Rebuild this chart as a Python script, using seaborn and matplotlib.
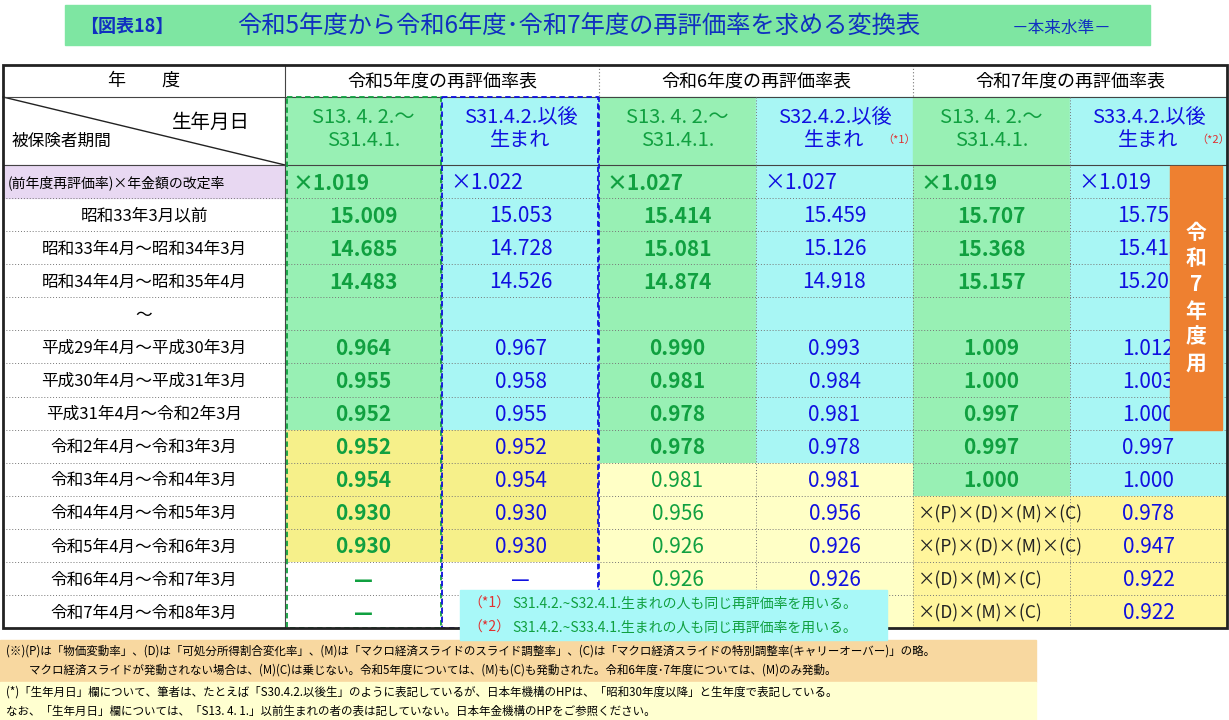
import numpy as np
import matplotlib
matplotlib.use("Agg")
import matplotlib.pyplot as plt
from matplotlib.colors import ListedColormap
from matplotlib.patches import Rectangle
import seaborn as sns

plt.rcParams["font.family"] = "Noto Sans CJK JP"

# ---- data ----
periods = ["(前年度再評価率)×年金額の改定率", "昭和33年3月以前", "昭和33年4月～昭和34年3月",
           "昭和34年4月～昭和35年4月", "～", "平成29年4月～平成30年3月",
           "平成30年4月～平成31年3月", "平成31年4月～令和2年3月", "令和2年4月～令和3年3月",
           "令和3年4月～令和4年3月", "令和4年4月～令和5年3月", "令和5年4月～令和6年3月",
           "令和6年4月～令和7年3月", "令和7年4月～令和8年3月"]
year_tables = ["令和5年度の再評価率表", "令和6年度の再評価率表", "令和7年度の再評価率表"]
birth_groups = ["S13. 4. 2.～\nS31.4.1.", "S31.4.2.以後\n生まれ",
                "S13. 4. 2.～\nS31.4.1.", "S32.4.2.以後\n生まれ",
                "S13. 4. 2.～\nS31.4.1.", "S33.4.2.以後\n生まれ"]
birth_marks = ["", "", "", "（*1）", "", "（*2）"]
r5_old = ["×1.019", "15.009", "14.685", "14.483", "", "0.964", "0.955", "0.952", "0.952", "0.954", "0.930", "0.930", "—", "—"]
r5_new = ["×1.022", "15.053", "14.728", "14.526", "", "0.967", "0.958", "0.955", "0.952", "0.954", "0.930", "0.930", "—", ""]
r6_old = ["×1.027", "15.414", "15.081", "14.874", "", "0.990", "0.981", "0.978", "0.978", "0.981", "0.956", "0.926", "0.926", ""]
r6_new = ["×1.027", "15.459", "15.126", "14.918", "", "0.993", "0.984", "0.981", "0.978", "0.981", "0.956", "0.926", "0.926", ""]
r7_old = ["×1.019", "15.707", "15.368", "15.157", "", "1.009", "1.000", "0.997", "0.997", "1.000",
          "×(P)×(D)×(M)×(C)", "×(P)×(D)×(M)×(C)", "×(D)×(M)×(C)", "×(D)×(M)×(C)"]
r7_new = ["×1.019", "15.753", "15.413", "15.201", "", "1.012", "1.003", "1.000", "0.997", "1.000", "0.978", "0.947", "0.922", "0.922"]
# background category per cell: 0 white, 1 green, 2 cyan, 3 yellow, 4 pale yellow, 5 gold
cell_kind = np.array([
    [1, 2, 1, 2, 1, 2]] * 8 +
    [[3, 3, 1, 2, 1, 2]] +
    [[3, 3, 4, 4, 1, 2]] +
    [[3, 3, 4, 4, 5, 5]] * 2 +
    [[0, 0, 4, 4, 5, 5]] * 2)
notes_star = ["（*1）", "（*2）"]
notes_star_text = ["S31.4.2.~S32.4.1.生まれの人も同じ再評価率を用いる。",
                   "S31.4.2.~S33.4.1.生まれの人も同じ再評価率を用いる。"]
footnotes = ["(※)(P)は「物価変動率」、(D)は「可処分所得割合変化率」、(M)は「マクロ経済スライドのスライド調整率」、(C)は「マクロ経済スライドの特別調整率(キャリーオーバー)」の略。",
             "　　マクロ経済スライドが発動されない場合は、(M)(C)は乗じない。令和5年度については、(M)も(C)も発動された。令和6年度･7年度については、(M)のみ発動。",
             "(*)「生年月日」欄について、筆者は、たとえば「S30.4.2.以後生」のように表記しているが、日本年機構のHPは、「昭和30年度以降」と生年度で表記している。",
             "なお、「生年月日」欄については、「S13. 4. 1.」以前生まれの者の表は記していない。日本年金機構のHPをご参照ください。"]

palette = ["#FFFFFF", "#98F0B4", "#A8F6F4", "#F6F08A", "#FFFFC6", "#FFF59C"]
GREEN, BLUE = "#10A040", "#1010E0"

W, H = 1229, 720
fig = plt.figure(figsize=(W / 100, H / 100), dpi=100)
bg = fig.add_axes([0, 0, 1, 1])
bg.set_xlim(0, W)
bg.set_ylim(H, 0)
bg.axis("off")

top, h1, h2, body_top, bottom = 65, 97, 165, 165, 628
cw = (1227 - 285) / 6
cols = [3] + [285 + k * cw for k in range(7)]

# title
bg.add_patch(Rectangle((65, 5), 1085, 40, color="#7EE6A2", zorder=0))
bg.text(80, 26, "【図表18】", fontsize=13, color="#1030C0", va="center", fontweight="bold")
bg.text(237, 26, "令和5年度から令和6年度･令和7年度の再評価率を求める変換表", fontsize=17.5, color="#1030C0", va="center")
bg.text(1012, 28, "－本来水準－", fontsize=12, color="#1030C0", va="center")

# body heatmap
hx0, hx1 = cols[1], cols[-1]
hax = fig.add_axes([hx0 / W, 1 - bottom / H, (hx1 - hx0) / W, (bottom - body_top) / H])
sns.heatmap(cell_kind, ax=hax, cmap=ListedColormap(palette), vmin=-0.5, vmax=5.5,
            cbar=False, xticklabels=False, yticklabels=False, linewidths=0)
col_data = [r5_old, r5_new, r6_old, r6_new, r7_old, r7_new]
nrow = len(periods)
for j, vals in enumerate(col_data):
    for i, v in enumerate(vals):
        if not v:
            continue
        col = GREEN if j % 2 == 0 else BLUE
        bold = j % 2 == 0 and not (j == 2 and i >= 9)
        x, ha = j + 0.5, "center"
        if i == 0:
            x, ha = j + 0.05, "left"
        if j == 4 and i >= 10:
            x, ha, col, bold = j + 0.03, "left", "#222222", False
        fs = 12.5 if (j == 4 and i >= 10) else 15
        hax.text(x, i + 0.55, v, ha=ha, va="center", fontsize=fs, color=col,
                 fontweight="bold" if bold else "normal")
for i in range(1, nrow):
    hax.axhline(i, color="#777777", lw=0.7, ls=(0, (1, 2)))
for j in [1, 3, 4, 5]:
    hax.axvline(j, color="#777777", lw=0.7, ls=(0, (1, 2)))

# overlay for decorations drawn above the heatmap
ov = fig.add_axes([0, 0, 1, 1])
ov.set_xlim(0, W)
ov.set_ylim(H, 0)
ov.axis("off")
ov.patch.set_alpha(0)

# header cells
for k in range(6):
    bg.add_patch(Rectangle((cols[k + 1], h1), cw, h2 - h1,
                           color=palette[1 if k % 2 == 0 else 2], zorder=0))
    col = GREEN if k % 2 == 0 else BLUE
    cx = cols[k + 1] + cw / 2
    bg.text(cx, 129, birth_groups[k], ha="center", va="center", fontsize=14.5, color=col, linespacing=1.1)
    if birth_marks[k]:
        bg.text(cx + 48, 140, birth_marks[k], ha="left", va="center", fontsize=8, color="#E03030")
for k, t in enumerate(year_tables):
    bg.text(cols[2 * k + 1] + cw, 81, t, ha="center", va="center", fontsize=13)
bg.text(144, 81, "年　　度", ha="center", va="center", fontsize=13)
bg.plot([3, 285], [97, 165], color="#222222", lw=1)
bg.text(250, 122, "生年月日", ha="right", va="center", fontsize=14)
bg.text(12, 141, "被保険者期間", ha="left", va="center", fontsize=12)

# row labels
rh = (bottom - body_top) / nrow
bg.add_patch(Rectangle((3, body_top), 282, rh, color="#E8D8F2", zorder=0))
for i, p in enumerate(periods):
    y = body_top + (i + 0.55) * rh
    if i == 0:
        bg.text(8, y, p, ha="left", va="center", fontsize=10)
    else:
        bg.text(144, y, p, ha="center", va="center", fontsize=12)
        bg.plot([3, 285], [body_top + i * rh] * 2, color="#777777", lw=0.7, ls=(0, (1, 2)))

# header grid lines
ov.plot([3, 1227], [h1, h1], color="#444444", lw=0.8)
ov.plot([3, 1227], [h2, h2], color="#444444", lw=0.8)
for x in [cols[3], cols[5]]:
    ov.plot([x, x], [top, h1], color="#777777", lw=0.8, ls=(0, (1, 2)))
ov.plot([285, 285], [top, bottom], color="#444444", lw=0.8)
for x in [cols[4], cols[6]]:
    ov.plot([x, x], [h1, h2], color="#777777", lw=0.7, ls=(0, (1, 2)))
ov.plot([cols[3], cols[3]], [h1, bottom], color="#1010E0", lw=1.2, ls=(0, (3, 2)))
ov.add_patch(Rectangle((cols[1] + 2, 97), cw - 3, 531, fill=False, ec="#10A040", lw=1.3, ls=(0, (3, 2)), zorder=5))
ov.add_patch(Rectangle((cols[2], 97), cw - 1, 531, fill=False, ec="#1010E0", lw=1.3, ls=(0, (3, 2)), zorder=5))
ov.add_patch(Rectangle((3, top), 1224, bottom - top, fill=False, ec="#222222", lw=2, zorder=6))

# orange side label
ov.add_patch(Rectangle((1170, 166), 52, 264, color="#EE8030", zorder=7))
ov.text(1196, 298, "令\n和\n7\n年\n度\n用", ha="center", va="center", fontsize=15,
        color="white", fontweight="bold", linespacing=1.3, zorder=8)

# star note box
ov.add_patch(Rectangle((460, 590), 427, 50, color="#A8F8F8", zorder=7))
for k in range(2):
    y = 604 + k * 24
    ov.text(468, y, notes_star[k], ha="left", va="center", fontsize=10, color="#E03030", zorder=8)
    ov.text(512, y, notes_star_text[k], ha="left", va="center", fontsize=10, color=GREEN, zorder=8)

# footnotes
bg.add_patch(Rectangle((0, 640), 1036, 42, color="#F8D8A0", zorder=0))
bg.add_patch(Rectangle((0, 682), 1036, 38, color="#FFFFD0", zorder=0))
for k, t in enumerate(footnotes):
    bg.text(6, 651 + k * 19 + (3 if k >= 2 else 0), t, ha="left", va="center", fontsize=8.3)

fig.savefig("out.png", dpi=100)
